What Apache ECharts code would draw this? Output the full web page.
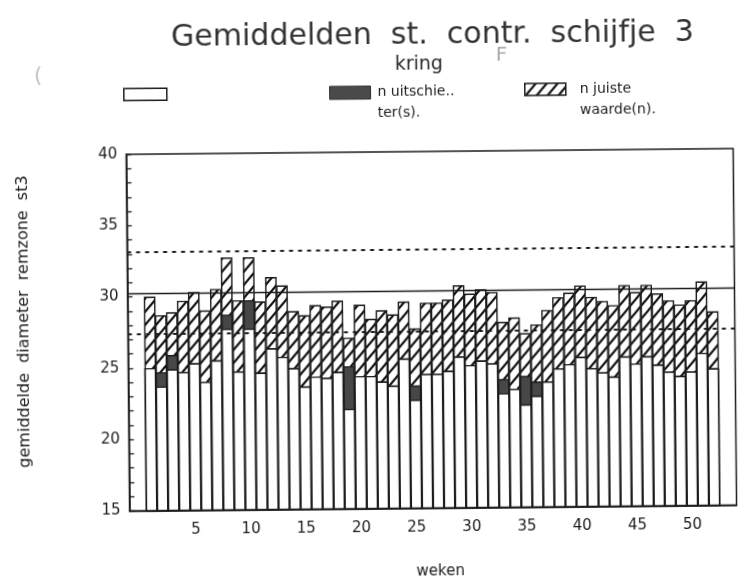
<!DOCTYPE html>
<html>
<head>
<meta charset="utf-8">
<script src="https://cdn.jsdelivr.net/npm/echarts@6/dist/echarts.min.js"></script>
<style>
  html, body { margin: 0; padding: 0; background: #fff; }
  #chart { width: 747px; height: 586px; transform: rotate(-0.55deg); }
</style>
</head>
<body>
<div id="chart"></div>
<script>
// Weekly means, disc 3 (control station), with the number of outliers and
// the number of correct readings stacked on top of each weekly value.
const weeks = [1, 2, 3, 4, 5, 6, 7, 8, 9, 10, 11, 12, 13, 14, 15, 16, 17, 18, 19, 20,
  21, 22, 23, 24, 25, 26, 27, 28, 29, 30, 31, 32, 33, 34, 35, 36, 37, 38, 39, 40,
  41, 42, 43, 44, 45, 46, 47, 48, 49, 50, 51, 52];

const baseValues = [25.0, 23.7, 24.9, 24.7, 25.3, 24.0, 25.5, 27.7, 24.7, 27.7,
  24.6, 26.3, 25.7, 24.9, 23.6, 24.3, 24.2, 24.6, 22.0, 24.3,
  24.3, 23.9, 23.6, 25.5, 22.6, 24.4, 24.4, 24.6, 25.6, 25.0,
  25.3, 25.1, 23.0, 23.3, 22.2, 22.8, 23.8, 24.7, 25.0, 25.5,
  24.7, 24.4, 24.1, 25.5, 25.0, 25.5, 24.9, 24.4, 24.1, 24.4,
  25.7, 24.6];

const outlierCounts = [0, 1, 1, 0, 0, 0, 0, 1, 0, 2,
  0, 0, 0, 0, 0, 0, 0, 0, 3, 0,
  0, 0, 0, 0, 1, 0, 0, 0, 0, 0,
  0, 0, 1, 0, 2, 1, 0, 0, 0, 0,
  0, 0, 0, 0, 0, 0, 0, 0, 0, 0,
  0, 0];

const correctCounts = [5, 4, 3, 5, 5, 5, 5, 4, 5, 3,
  5, 5, 5, 4, 5, 5, 5, 5, 2, 5,
  4, 5, 5, 4, 4, 5, 5, 5, 5, 5,
  5, 5, 4, 5, 3, 4, 5, 5, 5, 5,
  5, 5, 5, 5, 5, 5, 5, 5, 5, 5,
  5, 4];

// Control limits: upper, centre line, lower
const limitValues = [33.15, 30.2, 27.4];

const xLabels = [5, 10, 15, 20, 25, 30, 35, 40, 45, 50];

const seriesNames = ['gemiddelde', 'n uitschie..\nter(s).', 'n juiste\nwaarde(n).'];

// Cumulative segment tops; the segments are drawn as overlapping bars,
// tallest first, so each lower segment covers the one behind it.
const outlierTops = baseValues.map((v, i) => +(v + outlierCounts[i]).toFixed(2));
const correctTops = outlierTops.map((v, i) => +(v + correctCounts[i]).toFixed(2));

// Diagonal hatching tile for the "correct values" segments
function hatchPattern() {
  const w = 11, h = 13;
  const c = document.createElement('canvas');
  c.width = w; c.height = h;
  const g = c.getContext('2d');
  g.fillStyle = '#ffffff';
  g.fillRect(0, 0, w, h);
  g.strokeStyle = '#111111';
  g.lineWidth = 2.1;
  [0, h, 2 * h].forEach(function (off) {
    g.beginPath();
    g.moveTo(-2, off + 2 * h / w);
    g.lineTo(w + 2, off - (w + 2) * h / w);
    g.stroke();
  });
  return { image: c, repeat: 'repeat' };
}

const pair = (arr) => weeks.map((wk, i) => [wk, arr[i]]);

// Two-line legend labels: a blank first line keeps the first text line level with the swatch
const twoLine = () => (name) =>
  '\n' + name.split('\n').map((s) => '{t|' + s + '}').join('\n');

const chart = echarts.init(document.getElementById('chart'), null, { renderer: 'canvas' });
const FONT = 'DejaVu Sans';
const INK = '#1c1c1c';
const BAR_W = 11.6;

const legendText = (indent) => ({
  fontFamily: FONT, fontSize: 14, color: INK, lineHeight: 21,
  rich: { t: { fontFamily: FONT, fontSize: 14, color: INK, lineHeight: 21, padding: [0, 0, 0, indent] } }
});

chart.setOption({
  animation: false,
  backgroundColor: '#ffffff',
  title: [
    {
      text: 'Gemiddelden  st.  contr.  schijfje  3',
      left: 430, top: 16, textAlign: 'center',
      textStyle: { fontFamily: FONT, fontSize: 30, fontWeight: 'normal', color: '#333333' }
    },
    {
      text: 'kring',
      left: 416, top: 51, textAlign: 'center',
      textStyle: { fontFamily: FONT, fontSize: 19, fontWeight: 'normal', color: '#2a2a2a' }
    }
  ],
  legend: [
    {
      data: [{ name: seriesNames[0], icon: 'rect' }], left: 125, top: 85.5, padding: 0,
      selectedMode: false, itemWidth: 43, itemHeight: 12, formatter: () => '',
      itemStyle: { color: '#ffffff', borderColor: INK, borderWidth: 1.5 }
    },
    {
      data: [{ name: seriesNames[1], icon: 'rect' }], left: 331, top: 61, padding: 0,
      selectedMode: false, itemWidth: 41, itemHeight: 13,
      itemStyle: { color: '#4a4a4a', borderColor: '#333333', borderWidth: 1 },
      formatter: twoLine(), textStyle: legendText(2)
    },
    {
      data: [{ name: seriesNames[2], icon: 'rect' }], left: 526, top: 59.5, padding: 0,
      selectedMode: false, itemWidth: 41, itemHeight: 12,
      itemStyle: { borderColor: INK, borderWidth: 1.5 },
      formatter: twoLine(), textStyle: legendText(9)
    }
  ],
  graphic: [
    { type: 'text', left: 498, top: 47,
      style: { text: 'F', font: '20px "DejaVu Sans"', fill: '#aaaaaa' } },
    { type: 'text', left: 36, top: 62,
      style: { text: '(', font: '22px "DejaVu Sans"', fill: '#c4c4c4' } }
  ],
  grid: {
    left: 127.5, right: 12.5, top: 152, bottom: 77.5,
    show: true, borderColor: INK, borderWidth: 1.5, backgroundColor: 'transparent'
  },
  xAxis: {
    type: 'value', min: -1, max: 54, interval: 1,
    name: 'weken', nameLocation: 'middle', nameGap: 56,
    nameTextStyle: { fontFamily: FONT, fontSize: 15, color: INK, padding: [0, 0, 0, 14] },
    axisLine: { show: true, onZero: false, lineStyle: { color: INK, width: 1.5 } },
    axisTick: { show: false },
    splitLine: { show: false },
    axisLabel: {
      margin: 12, fontFamily: FONT, fontSize: 15, color: INK,
      formatter: (v) => (xLabels.indexOf(v) >= 0 ? String(v) : '')
    }
  },
  yAxis: {
    type: 'value', min: 15, max: 40, interval: 5,
    name: 'gemiddelde  diameter  remzone  st3', nameLocation: 'middle', nameGap: 96, nameRotate: 90,
    nameTextStyle: { fontFamily: FONT, fontSize: 16, color: INK, padding: [0, 0, 0, 24] },
    axisLine: { show: true, onZero: false, lineStyle: { color: INK, width: 1.5 } },
    axisTick: { show: true, inside: true, length: 5, lineStyle: { color: INK, width: 1.3 } },
    minorTick: { show: true, splitNumber: 5, length: 5, lineStyle: { color: INK, width: 1.3 } },
    splitLine: { show: false },
    axisLabel: { margin: 9, fontFamily: FONT, fontSize: 15, color: INK }
  },
  series: [
    {
      name: seriesNames[2], type: 'bar', barWidth: BAR_W, barGap: '-100%',
      data: pair(correctTops),
      itemStyle: { color: hatchPattern(), borderColor: INK, borderWidth: 1.4 },
      markLine: {
        silent: true, symbol: 'none', label: { show: false },
        data: [
          { yAxis: limitValues[0], lineStyle: { color: INK, type: [4, 5], width: 2 } },
          { yAxis: limitValues[1], lineStyle: { color: INK, type: 'solid', width: 1.3 } },
          { yAxis: limitValues[2], lineStyle: { color: INK, type: [4, 5], width: 2 } }
        ]
      }
    },
    {
      name: seriesNames[1], type: 'bar', barWidth: BAR_W, barGap: '-100%',
      data: pair(outlierTops),
      itemStyle: { color: '#474747', borderColor: INK, borderWidth: 1.4 }
    },
    {
      name: seriesNames[0], type: 'bar', barWidth: BAR_W, barGap: '-100%',
      data: pair(baseValues),
      itemStyle: { color: '#ffffff', borderColor: INK, borderWidth: 1.4 }
    }
  ]
});
</script>
</body>
</html>
